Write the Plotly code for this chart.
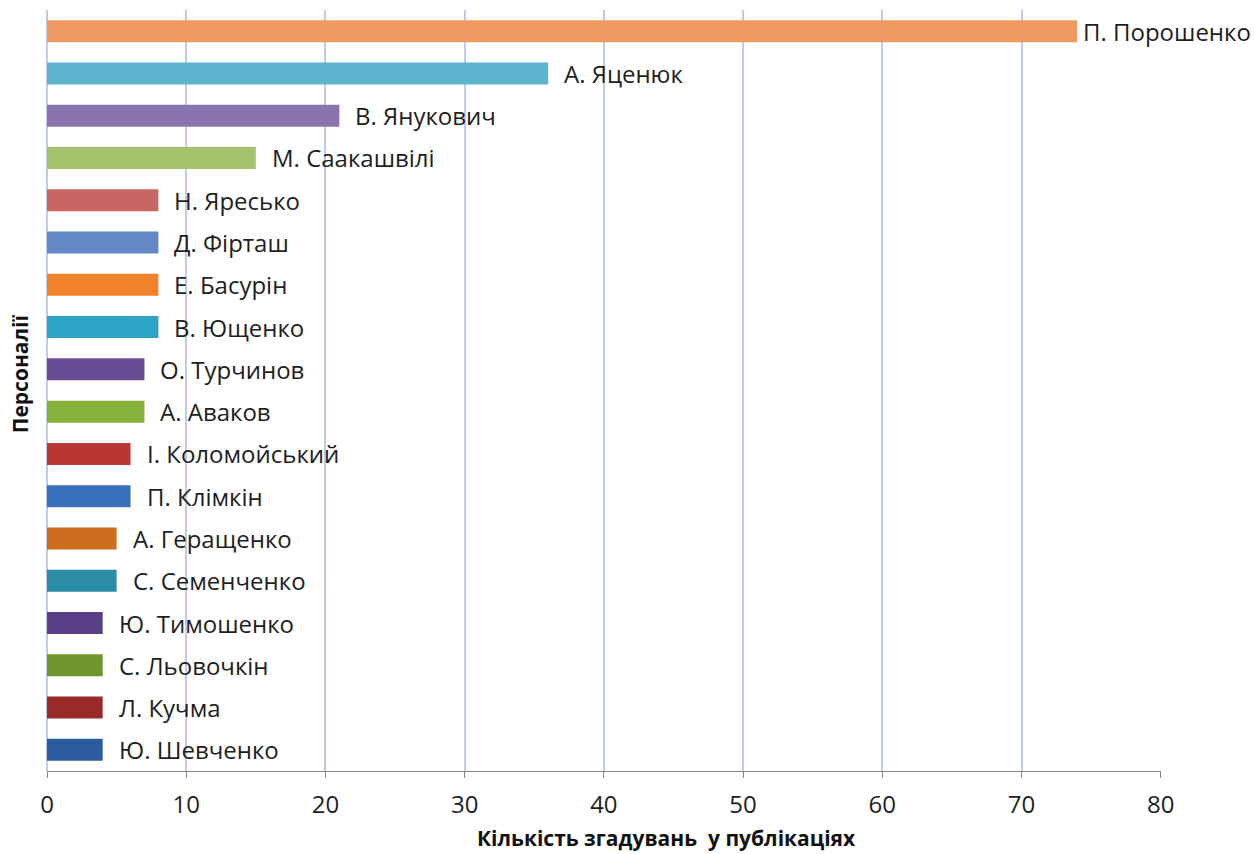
import plotly.graph_objects as go

names = ["П. Порошенко", "А. Яценюк", "В. Янукович", "М. Саакашвілі", "Н. Яресько",
         "Д. Фірташ", "Е. Басурін", "В. Ющенко", "О. Турчинов", "А. Аваков",
         "І. Коломойський", "П. Клімкін", "А. Геращенко", "С. Семенченко",
         "Ю. Тимошенко", "С. Льовочкін", "Л. Кучма", "Ю. Шевченко"]
values = [74, 36, 21, 15, 8, 8, 8, 8, 7, 7, 6, 6, 5, 5, 4, 4, 4, 4]
colors = ["#F09A62", "#5DB3CE", "#8B74AD", "#A3C46A", "#C86663", "#6488C6",
          "#F0822A", "#2EA4C4", "#6A4C96", "#86B23C", "#B83634", "#3A6FBA",
          "#CF6D1F", "#2A8CA6", "#5B3F86", "#6E9530", "#9A2A2A", "#2B5C9D"]
x_ticks = [0, 10, 20, 30, 40, 50, 60, 70, 80]
x_title = "Кількість згадувань  у публікаціях"
y_title = "Персоналії"

FONT = "Open Sans"

fig = go.Figure()
fig.add_trace(go.Bar(
    x=values, y=names, orientation="h",
    marker=dict(color=colors, line=dict(width=0)),
    width=0.52, hoverinfo="x+y",
))

vmax = max(values)
for n, v in zip(names, values):
    fig.add_annotation(x=v, y=n, text=n, showarrow=False, xanchor="left",
                       xshift=4 if v == vmax else 14,
                       font=dict(family=FONT, size=24, color="#1e1e1e"))

fig.add_annotation(xref="paper", yref="paper", x=(666 - 47) / (1161 - 47),
                   y=(771 - 838) / (771 - 10),
                   text=x_title, showarrow=False, yanchor="middle",
                   font=dict(family=FONT, size=21, color="#111111", weight="bold"))
fig.add_annotation(xref="paper", yref="paper", x=-0.024, y=(771 - 374) / (771 - 10),
                   text=y_title, showarrow=False, textangle=-90, xanchor="center",
                   yanchor="middle",
                   font=dict(family=FONT, size=21, color="#111111", weight="bold"))

fig.update_layout(
    width=1255, height=854,
    margin=dict(l=47, r=94, t=10, b=83),
    paper_bgcolor="white", plot_bgcolor="white",
    showlegend=False,
    font=dict(family=FONT, size=24, color="#1e1e1e"),
    xaxis=dict(range=[0, 80.02], tickvals=x_ticks, showgrid=True,
               gridcolor="#BDCCEC", gridwidth=1.5,
               zeroline=True, zerolinecolor="#BDCCEC", zerolinewidth=2,
               showline=True, linecolor="#8A8A8A", linewidth=1,
               ticks="outside", ticklen=6, tickcolor="#8A8A8A",
               ticklabelstandoff=6,
               tickfont=dict(family=FONT, size=24, color="#1e1e1e")),
    yaxis=dict(autorange="reversed", showticklabels=False, showgrid=False,
               zeroline=False, ticks=""),
    bargap=0.48,
)

fig.write_html("out.html")
